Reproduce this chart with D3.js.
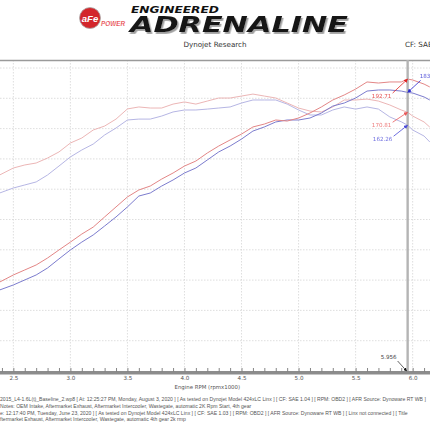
<!DOCTYPE html>
<html>
<head>
<meta charset="utf-8">
<script src="https://cdn.jsdelivr.net/npm/d3@7/dist/d3.min.js"></script>
<style>
  body { margin: 0; background: #fff; }
  svg { display: block; }
</style>
</head>
<body>
<div id="graf"></div>
<script>
/***** DATOS *****/
rpm = [2.38, 2.5, 2.6, 2.7, 2.8, 2.9, 3.0, 3.1, 3.2, 3.3, 3.4, 3.5, 3.6, 3.7, 3.8, 3.9, 4.0, 4.1, 4.2, 4.3,
       4.4, 4.5, 4.6, 4.7, 4.8, 4.9, 5.0, 5.1, 5.2, 5.3, 5.4, 5.5, 5.6, 5.7, 5.8, 5.9, 5.956, 6.0, 6.1, 6.15]
// potencia corrida roja / azul
potRoja = [58.7, 63.4, 66.7, 70, 74.6, 79.9, 85.1, 90.4, 95, 101.7, 108.3, 114.9, 119.5, 122.1, 126.7, 130.7, 135.3, 138.6, 143.9, 148.5,
           152.5, 156.4, 161.1, 163, 165.7, 165, 167, 170.3, 174.3, 178.9, 182.2, 186.1, 190.8, 190.1, 190.8, 190.8, 192.71, 192.1, 189.4, 187.5]
potAzul = [53.5, 56.8, 60.1, 63.4, 68, 74, 79.9, 85.1, 89.8, 95.7, 101.7, 108.3, 115.5, 117.5, 122.1, 126.1, 130.7, 134, 139.3, 144.6,
           148.5, 153.1, 158.4, 161.1, 164.4, 165.7, 165.7, 167, 170.3, 174.9, 176.9, 180.2, 184.8, 185.5, 185.5, 184.8, 183.9, 183.5, 180.9, 178.9]
// torque corrida roja / azul
torRoja = [129.4, 134, 136, 137.3, 140.6, 144.6, 150.5, 153.8, 159.1, 161.7, 166.3, 173, 174.3, 173.6, 173.6, 176.2, 177.6, 176.2, 178.2, 180.2,
           180.2, 181.5, 182.8, 181.5, 180.2, 176.9, 173.6, 171.6, 171, 174.3, 178.9, 178.9, 179.5, 178.2, 175.6, 172.3, 170.81, 168.3, 164.4, 161]
torAzul = [117.5, 120.8, 122.8, 124.8, 129.4, 135.3, 141.3, 145.9, 149.8, 155.8, 160.4, 165.7, 166.3, 166.3, 168.3, 171, 172.3, 172.3, 172.9, 173.6,
           174.3, 176.9, 178.9, 178.9, 178.9, 176.2, 172.3, 169, 169, 172.3, 174.3, 172.9, 174.3, 172.9, 167.7, 164.5, 162.26, 159.1, 155.1, 151.2]

rpmCursor = 5.956
ticksRpm = [2.5, 3.0, 3.5, 4.0, 4.5, 5.0, 5.5, 6.0]
ticksMenores = [2.4, 2.5, 2.6, 2.7, 2.8, 2.9, 3.0, 3.1, 3.2, 3.3, 3.4, 3.5, 3.6, 3.7, 3.8, 3.9, 4.0, 4.1, 4.2, 4.3,
                4.4, 4.5, 4.6, 4.7, 4.8, 4.9, 5.0, 5.1, 5.2, 5.3, 5.4, 5.5, 5.6, 5.7, 5.8, 5.9, 6.0, 6.1]
gridValores = [20, 40, 60, 80, 100, 120, 140, 160, 180, 200]

lineasNotas = [
  '2015_L4-1.6L(t)_Baseline_2.wp8 [ At: 12:25:27 PM, Monday, August 3, 2020 ] [ As tested on Dynojet Model 424xLC Linx ] [ CF: SAE 1.04 ] [ RPM: OBD2 ] [ AFR Source: Dynoware RT WB ]',
  'Notes: OEM Intake, Aftermarket Exhaust, Aftermarket Intercooler, Wastegate, automatic 2K Rpm Start, 4th gear',
  'e: 12:17:40 PM, Tuesday, June 23, 2020 ] [ As tested on Dynojet Model 424xLC Linx ] [ CF: SAE 1.03 ] [ RPM: OBD2 ] [ AFR Source: Dynoware RT WB ] [ Linx not connected ] [ Title',
  'ftermarket Exhaust, Aftermarket Intercooler, Wastegate, automatic 4th gear 2k rmp'
]

/***** Config de las series (estilo) *****/
series = [
  { valores: potRoja, color: '#e38686', marca: '#e02424', etiqueta: { dx: -26, dy: 19, anchor: 'middle' } },
  { valores: potAzul, color: '#7c7cce', marca: '#2a2ad0', etiqueta: { dx: 12, dy: -14, anchor: 'start' } },
  { valores: torRoja, color: '#ecb6b6', marca: '#e85a5a', etiqueta: { dx: -26, dy: 15, anchor: 'middle' } },
  { valores: torAzul, color: '#b6b6e4', marca: '#4a4ad8', etiqueta: { dx: -25, dy: 16, anchor: 'middle' } }
]

ancho = 430
alto = 430
plot = { superior: 60, inferior: 371 }

svg = d3.select('#graf').append('svg')
        .attr('width', ancho)
        .attr('height', alto)
        .style('font-family', '"DejaVu Sans", sans-serif')

/***** Escalas *****/
x = d3.scaleLinear().domain([2.383, 6.152]).range([0, ancho])
y = d3.scaleLinear().domain([0, 205.3]).range([plot.inferior, plot.superior])

/***** ENCABEZADO *****/
defs = svg.append('defs')
defs.append('clipPath').attr('id', 'recorte')
    .append('rect').attr('x', 0).attr('y', plot.superior).attr('width', ancho).attr('height', plot.inferior - plot.superior)
defs.append('filter').attr('id', 'sombra').attr('x', '-5%').attr('y', '-20%').attr('width', '115%').attr('height', '150%')
    .append('feDropShadow').attr('dx', 1.5).attr('dy', 1.5).attr('stdDeviation', 0.6)
    .attr('flood-color', '#888').attr('flood-opacity', 0.8)

enc = svg.append('g')
enc.append('circle').attr('cx', 90).attr('cy', 18).attr('r', 10.5)
   .attr('fill', '#d3262b').attr('stroke', '#aaa').attr('stroke-width', 0.8)
enc.append('text').attr('x', 90).attr('y', 21.5).attr('text-anchor', 'middle')
   .attr('fill', '#fff').style('font', 'italic bold 9.5px "Liberation Sans"').text('aFe')
enc.append('text').attr('x', 101).attr('y', 25.5).attr('fill', '#e3262b')
   .attr('stroke', '#fff').attr('stroke-width', 0.2)
   .attr('textLength', 24).attr('lengthAdjust', 'spacingAndGlyphs')
   .style('font', 'italic bold 7px "Liberation Sans"').text('POWER')
enc.append('text').attr('x', 131).attr('y', 12.5).attr('fill', '#111')
   .attr('textLength', 88).attr('lengthAdjust', 'spacingAndGlyphs')
   .style('font', 'italic 900 8px "DejaVu Sans"').text('ENGINEERED')
enc.append('text').attr('transform', 'translate(130, 31.5) scale(1, 1.25)').attr('fill', '#151515')
   .attr('filter', 'url(#sombra)')
   .attr('textLength', 218).attr('lengthAdjust', 'spacingAndGlyphs')
   .style('font', 'italic 900 17.5px "DejaVu Sans"').text('ADRENALINE')

svg.append('text').attr('x', 215).attr('y', 47).attr('text-anchor', 'middle')
   .attr('fill', '#333').style('font-size', '7.2px').text('Dynojet Research')
svg.append('text').attr('x', 405).attr('y', 47)
   .attr('fill', '#333').style('font-size', '7.2px').text('CF: SAE')

/***** GRID *****/
grid = svg.append('g')
grid.selectAll('.gv').data(ticksRpm).join('line')
    .attr('x1', d => x(d)).attr('x2', d => x(d))
    .attr('y1', plot.superior).attr('y2', plot.inferior)
    .attr('stroke', '#d6d6d6').attr('stroke-width', 0.8).attr('stroke-dasharray', '1.5,1.5')
grid.selectAll('.gh').data(gridValores).join('line')
    .attr('x1', 0).attr('x2', ancho)
    .attr('y1', d => y(d)).attr('y2', d => y(d))
    .attr('stroke', '#d6d6d6').attr('stroke-width', 0.8).attr('stroke-dasharray', '1.5,1.5')

svg.append('line').attr('x1', 0).attr('x2', ancho).attr('y1', plot.superior + 0.5).attr('y2', plot.superior + 0.5)
   .attr('stroke', '#9a9a9a').attr('stroke-width', 1.4)

/***** CURVAS *****/
gCurvas = svg.append('g').attr('clip-path', 'url(#recorte)')
linea = d3.line().x((d, i) => x(rpm[i])).y(d => y(d))
series.slice().reverse().forEach(s => {
  gCurvas.append('path')
    .datum(s.valores)
    .attr('fill', 'none')
    .attr('stroke', s.color)
    .attr('stroke-width', 1)
    .attr('stroke-linejoin', 'round')
    .attr('d', linea)
})

/***** CURSOR *****/
svg.append('line')
   .attr('x1', x(rpmCursor)).attr('x2', x(rpmCursor))
   .attr('y1', plot.superior).attr('y2', plot.inferior)
   .attr('stroke', '#b4b4b4').attr('stroke-width', 2.4)

/***** EJE X *****/
ejeY = plot.inferior
svg.append('rect').attr('x', 0).attr('y', ejeY).attr('width', ancho).attr('height', 3.5).attr('fill', '#8c8c8c')
ejeMenor = d3.axisTop(x).tickValues(ticksMenores).tickSize(3.5).tickFormat('')
gMenor = svg.append('g').attr('transform', `translate(0, ${ ejeY + 0.5 })`).call(ejeMenor)
gMenor.select('.domain').remove()
gMenor.selectAll('line').attr('stroke', '#777').attr('stroke-width', 0.9)

ejeX = d3.axisBottom(x).tickValues(ticksRpm).tickSize(0).tickPadding(0).tickFormat(d3.format('.1f'))
gEje = svg.append('g').attr('transform', `translate(0, ${ ejeY + 5 })`).call(ejeX)
gEje.select('.domain').remove()
gEje.selectAll('text').attr('fill', '#555').style('font-size', '5.6px').style('font-family', '"DejaVu Sans"')

svg.append('text').attr('x', x(4.2)).attr('y', 389).attr('text-anchor', 'middle')
   .attr('fill', '#555').style('font-size', '5.4px').text('Engine RPM (rpmx1000)')

/***** ANOTACIONES DEL CURSOR *****/
series.forEach((s, k) => {
  i = rpm.indexOf(rpmCursor)
  px = x(rpmCursor)
  py = y(s.valores[i])
  defs.append('marker').attr('id', 'flecha' + k)
      .attr('viewBox', '0 0 10 10').attr('refX', 9).attr('refY', 5)
      .attr('markerWidth', 5).attr('markerHeight', 5).attr('orient', 'auto')
      .append('path').attr('d', 'M0,0L10,5L0,10z').attr('fill', s.marca)
  lx = px + s.etiqueta.dx
  ly = py + s.etiqueta.dy
  inicioX = s.etiqueta.anchor === 'start' ? lx + 1 : lx + 11
  inicioY = s.etiqueta.anchor === 'start' ? ly + 2 : ly - 5
  svg.append('line')
     .attr('x1', inicioX).attr('y1', inicioY).attr('x2', px).attr('y2', py)
     .attr('stroke', s.marca).attr('stroke-width', 0.8)
     .attr('marker-end', `url(#flecha${k})`)
  svg.append('text')
     .attr('x', lx).attr('y', ly).attr('text-anchor', s.etiqueta.anchor)
     .attr('fill', s.marca).attr('opacity', 0.8)
     .style('font-size', '5.6px')
     .text(d3.format('.2f')(s.valores[i]))
})

// valor del cursor en el eje
defs.append('marker').attr('id', 'flechaN')
    .attr('viewBox', '0 0 10 10').attr('refX', 9).attr('refY', 5)
    .attr('markerWidth', 5).attr('markerHeight', 5).attr('orient', 'auto')
    .append('path').attr('d', 'M0,0L10,5L0,10z').attr('fill', '#111')
svg.append('text').attr('x', x(rpmCursor) - 19).attr('y', 358.5).attr('text-anchor', 'middle')
   .attr('fill', '#444').style('font-size', '5.6px').text(d3.format('.3f')(rpmCursor))
svg.append('line').attr('x1', x(rpmCursor) - 10).attr('y1', 361).attr('x2', x(rpmCursor) - 1).attr('y2', ejeY)
   .attr('stroke', '#222').attr('stroke-width', 0.7).attr('marker-end', 'url(#flechaN)')

/***** NOTAS *****/
posNotas = [401, 407.5, 414.5, 421]
svg.selectAll('.nota').data(lineasNotas).join('text')
   .attr('x', 0).attr('y', (d, i) => posNotas[i])
   .attr('fill', '#555')
   .style('font-size', '5.1px')
   .style('font-family', '"Liberation Sans", sans-serif')
   .text(d => d)
</script>
</body>
</html>
